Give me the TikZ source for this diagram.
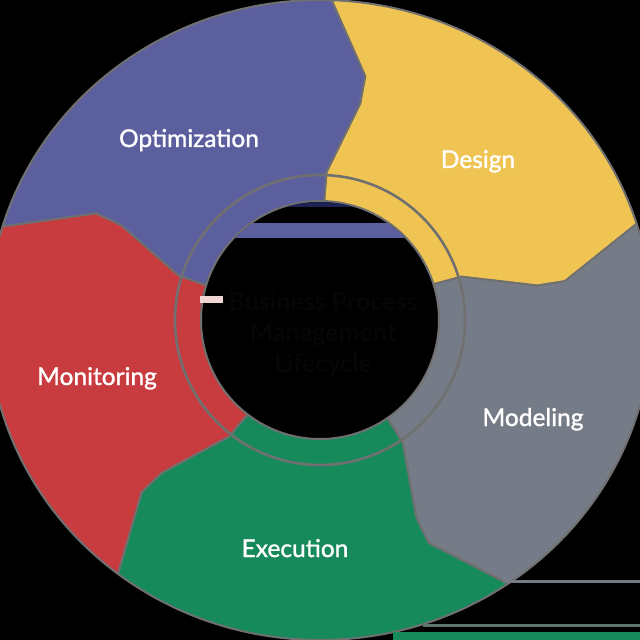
\documentclass[tikz,border=0pt]{standalone}
\usepackage{fontspec}
\setmainfont{Lato}
\newfontfamily\phasefont[FakeBold=1.2]{Lato}
\definecolor{optblue}{HTML}{5B5F9E}
\definecolor{desyellow}{HTML}{EFC453}
\definecolor{modgray}{HTML}{767C87}
\definecolor{exegreen}{HTML}{178A5B}
\definecolor{monred}{HTML}{C83B3F}
\definecolor{ringgray}{HTML}{707070}
\definecolor{navy}{HTML}{1E2252}
\definecolor{softpink}{HTML}{F2D6D4}
\definecolor{titleink}{HTML}{060606}
% one ring sector: from boundary angle #1 clockwise to boundary angle #2;
% every boundary carries an arrow nose pointing clockwise
\newcommand{\ringsector}[3]{%
  \filldraw[sector, fill=#3]
    (#1:119pt) -- (#1-0.5:148pt) -- (#1-8.5:220pt) -- (#1-8.5:248pt)
    -- (#1:332pt and 320pt)
    arc[start angle=#1, end angle=#2, x radius=332pt, y radius=320pt]
    -- (#2-8.5:248pt) -- (#2-8.5:220pt) -- (#2-0.5:148pt) -- (#2:119pt)
    arc[start angle=#2, end angle=#1, radius=119pt] -- cycle;}
\begin{document}
\begin{tikzpicture}[x=1pt,y=1pt,
  sector/.style={draw=ringgray, line width=2pt, line join=round},
  phase/.style={text=white, anchor=base, font=\phasefont\fontsize{24.5}{28}\selectfont},
  title/.style={text=titleink, align=center, font=\bfseries\fontsize{25}{31}\selectfont}]
\useasboundingbox (-320,-320) rectangle (320,320);
\clip (-320,-320) rectangle (320,320);
\fill[black] (-320,-320) rectangle (320,320);

% the five phases, clockwise from the top
\ringsector{88}{17.5}{desyellow}
\ringsector{17.5}{-55.5}{modgray}
\ringsector{-55.5}{-127.5}{exegreen}
\ringsector{-127.5}{-197}{monred}
\ringsector{-197}{-272}{optblue}

% thin inner ring
\draw[ringgray, line width=2.6pt] (0,0) circle[radius=145pt];

% marks inside the hub
\begin{scope}
  \clip (0,0) circle[radius=118pt];
  \fill[optblue] (-130,82) rectangle (130,97);
  \fill[navy] (-33,113) rectangle (32,121);
\end{scope}
\fill[softpink] (-120,17) rectangle (-97,24);

% strips along the lower edge
\fill[exegreen] (73,-320) rectangle (320,-312);
\fill[ringgray!80!exegreen] (103,-307) rectangle (320,-304);
\fill[modgray] (183,-263) rectangle (320,-260);

% phase labels
\node[phase] (design) at (158,152) {Design};
\node[phase] (modeling) at (213,-106) {Modeling};
\node[phase] (execution) at (-25,-237) {Execution};
\node[phase] (monitoring) at (-223,-65) {Monitoring};
\node[phase] (optimization) at (-131,173) {Optimization};

% hub title
\node[title] (hub) at (3,-14) {Business Process\\Management\\Lifecycle};
\end{tikzpicture}
\end{document}
